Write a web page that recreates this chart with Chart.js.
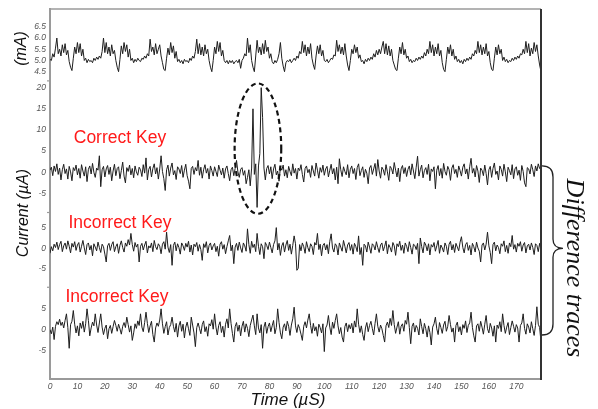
<!DOCTYPE html>
<html><head><meta charset="utf-8">
<script src="https://cdn.jsdelivr.net/npm/chart.js@4"></script>
<style>html,body{margin:0;padding:0;background:#fff;}#wrap{width:598px;height:409px;}</style>
</head><body><div id="wrap"><canvas id="c" width="598" height="409"></canvas></div>
<script>
// ---- data ----
const TIME_STEP_US = 0.5;            // sample spacing of every trace, in µS
const timeTicks = [0,10,20,30,40,50,60,70,80,90,100,110,120,130,140,150,160,170];
const supplyTicks = [4.5,5.0,5.5,6.0,6.5];
const correctTicks = [-5,0,5,10,15,20];
const incorrectTicks = [-5,0,5];
const traceLabels = ['Correct Key','Incorrect Key','Incorrect Key'];

// supply current (mA)
const supplyCurrent = [
5.05,5.0,5.3,5.15,5.55,6.0,5.3,5.5,5.2,5.7,5.35,5.75,5.25,5.45,4.95,4.7,4.55,5.1,5.6,5.3,
5.8,5.35,5.75,5.2,5.5,5.0,5.1,4.9,5.05,4.95,5.0,4.9,5.1,5.0,5.15,5.05,5.2,5.1,5.4,6.0,
5.35,5.8,5.3,5.6,5.2,5.7,5.3,5.45,5.0,4.7,4.5,5.05,5.65,5.3,5.8,5.4,5.7,5.15,5.5,5.0,
5.1,4.9,5.05,4.95,5.1,5.0,4.95,5.1,5.05,5.2,5.1,5.3,5.2,5.95,5.4,5.6,5.25,5.75,5.3,5.5,
5.7,5.2,4.9,4.6,4.55,5.1,5.55,5.25,5.8,5.35,5.65,5.1,5.4,4.95,5.05,4.9,5.0,4.85,5.05,4.95,
5.0,4.9,5.1,5.0,5.2,5.1,5.4,5.95,5.3,5.75,5.25,5.6,5.2,5.7,5.3,5.5,5.0,4.7,4.5,5.0,
5.6,5.3,5.85,5.4,5.8,5.2,5.45,5.0,4.9,5.0,4.85,5.0,4.9,5.0,4.85,4.95,5.0,4.9,5.05,4.65,
5.0,5.1,5.3,5.2,6.0,5.35,5.7,5.0,4.7,4.5,5.2,5.9,5.35,5.6,5.25,5.75,5.3,5.9,5.4,5.6,
5.1,5.3,4.95,4.85,5.0,4.9,5.05,5.3,5.8,5.1,4.75,4.5,4.9,5.0,4.95,5.05,4.9,5.0,5.1,5.0,
5.2,5.1,5.4,5.3,5.85,5.35,5.7,5.2,5.6,5.3,5.75,5.1,4.8,4.6,5.2,5.65,5.3,5.7,5.2,5.45,
5.0,4.95,5.05,4.9,5.0,5.1,5.05,5.25,5.2,5.9,5.4,5.7,5.3,5.6,5.25,5.75,5.2,4.8,4.55,5.0,
5.5,5.3,5.7,5.35,5.6,5.1,5.25,4.95,5.0,4.85,5.05,4.95,5.1,5.0,5.15,5.05,5.3,5.15,5.45,5.25,
5.5,5.3,5.6,5.85,5.3,5.75,5.25,5.65,5.2,5.5,5.0,4.8,4.6,4.55,5.1,5.6,5.3,5.8,5.25,5.5,
5.1,5.2,4.95,5.05,4.9,5.0,4.95,5.1,5.0,5.15,5.05,5.2,5.1,5.35,5.2,5.5,5.3,5.85,5.35,5.7,
5.2,5.6,5.3,5.75,5.2,5.45,4.9,4.6,4.5,5.05,5.6,5.3,5.7,5.2,5.5,5.05,5.2,4.95,5.05,4.9,
5.0,4.85,5.05,4.95,5.1,5.0,5.15,5.05,5.3,5.2,5.45,5.3,5.85,5.35,5.7,5.25,5.6,5.3,5.75,5.2,
5.4,4.9,4.6,4.55,5.1,5.6,5.25,5.7,5.3,5.5,5.0,5.15,4.95,5.05,4.9,5.0,4.95,5.1,5.0,5.15,
5.05,5.2,5.1,5.3,5.25,5.5,5.3,5.85,5.35,5.75,5.2,5.55,5.3,5.8,5.4,5.7,5.2,4.8,4.5
];

// difference trace, correct key (µA)
const correctKeyDiff = [
0.5,1.2,-0.8,1.5,0.2,2.0,-0.5,1.0,-1.8,0.6,1.9,-0.3,0.8,-1.6,1.4,0.1,-2.0,1.1,0.4,1.7,
-0.6,0.9,-1.4,1.8,0.3,-0.9,1.3,-2.2,0.7,1.5,-0.4,2.1,0.0,-1.2,1.0,0.5,3.9,-3.4,0.6,1.4,
-1.1,0.8,1.6,-0.5,1.2,-2.0,0.3,1.9,-0.8,0.9,1.3,-1.5,0.4,2.4,-0.9,-2.5,1.1,0.2,1.7,-0.6,
0.9,-1.3,1.5,0.1,-0.7,1.2,0.6,-1.0,1.8,-0.2,3.4,-1.8,0.7,1.4,-1.1,0.9,2.0,-0.4,1.1,-1.6,
0.8,3.9,0.2,-1.5,-4.3,0.6,1.7,-0.9,1.0,2.2,-0.6,0.4,-1.7,1.3,0.8,-0.3,1.6,-1.2,0.5,1.9,
-0.8,-2.1,-3.9,0.9,1.4,-0.5,1.1,0.3,2.8,-0.7,1.2,-1.4,0.6,1.8,-0.2,0.9,-1.6,1.5,0.4,-0.9,
1.3,0.2,-1.0,1.7,0.5,-0.6,1.0,-1.4,0.8,1.5,-0.3,-2.0,0.6,1.2,-0.8,0.9,2.8,0.1,-1.2,0.7,
1.1,-0.7,0.4,-2.7,-1.2,0.6,-3.2,1.0,15,-0.5,2.0,-8.3,1.5,4.4,20,13,1.0,-1.8,0.9,1.6,
-0.4,1.3,-1.5,0.8,1.9,-0.6,0.3,-2.1,1.2,0.5,1.7,-0.9,0.6,-1.3,1.4,0.2,-0.8,2.0,-0.2,0.9,
-1.6,1.0,0.4,1.8,-0.5,-2.3,0.9,1.5,-0.1,0.7,-1.2,1.6,0.3,-0.9,2.2,0.5,-1.4,1.1,0.0,1.7,
-0.7,0.8,1.4,-1.1,0.5,1.9,-0.4,0.9,-1.8,1.2,-2.7,3.2,0.6,-1.0,1.3,0.2,-0.6,1.8,-1.3,0.7,
1.5,-0.3,0.9,-1.7,1.1,2.0,-0.8,0.4,1.3,-1.2,0.7,-0.2,-2.7,1.0,1.6,-0.5,0.8,2.1,-0.9,3.0,
0.3,-1.4,1.2,0.6,-0.7,1.8,0.1,-1.9,1.4,0.9,-0.4,2.3,0.5,-1.1,1.0,-2.2,0.8,1.6,-0.3,1.1,
-1.0,0.7,1.5,-0.6,2.0,0.3,-1.5,1.2,3.8,-0.9,0.6,1.7,-1.3,0.4,1.1,-0.5,1.9,-2.0,0.8,0.2,
1.3,-3.9,0.5,1.6,-0.8,0.9,-1.4,2.1,0.2,-0.7,1.4,0.6,-1.9,1.0,1.8,-0.3,0.7,-1.2,1.5,0.4,
-0.9,1.2,2.0,-0.4,0.8,-1.6,1.3,3.3,-0.2,0.9,-1.1,1.6,0.3,-2.4,1.0,0.5,-0.8,1.7,-0.3,-3.0,
0.6,1.4,-1.2,0.9,2.2,-0.5,0.3,-1.8,1.5,0.7,-0.9,1.9,0.1,-2.2,1.2,0.4,-0.6,1.8,-1.5,0.8,
1.3,-0.7,0.5,-1.9,1.6,0.2,-2.5,-3.4,1.1,0.8,-0.4,1.9,0.6,-1.0,1.5,0.3,2.0,0.9,1.4
];

// difference trace, first incorrect key (µA)
const incorrectKeyDiffA = [
-1.2,0.4,-0.6,1.0,0.2,1.5,-0.3,0.9,1.7,-0.8,0.6,1.3,-0.2,1.8,0.5,-1.1,1.2,0.3,1.6,-0.5,
0.8,1.4,-0.9,0.5,1.9,0.1,-1.5,0.9,1.3,-0.4,0.7,-1.8,1.1,0.3,-0.6,1.5,0.2,-1.0,1.0,0.4,
-1.4,-3.3,0.6,1.2,-0.5,0.9,1.6,-0.8,0.4,1.1,-1.2,0.7,1.8,0.2,-0.9,1.3,0.5,2.1,0.8,3.6,
0.9,-0.7,1.4,0.3,1.0,-3.3,0.5,1.2,-0.4,0.8,1.7,-1.1,0.6,0.1,1.3,-0.8,1.9,0.4,-0.3,1.1,
0.5,-1.3,1.0,1.6,-0.2,3.9,0.3,-1.0,0.9,-4.1,0.7,1.5,-0.6,1.1,0.2,-1.4,1.3,0.6,-0.5,1.2,
0.3,1.7,-0.9,0.8,-1.6,1.0,0.4,1.4,-0.7,0.9,-0.3,-2.9,1.1,0.2,1.6,-1.1,0.7,1.3,-0.4,0.6,
1.2,-0.8,0.5,-1.9,1.0,1.6,-0.2,0.9,-1.3,0.4,1.8,3.1,-0.6,0.8,-3.7,0.3,1.2,-0.5,1.5,0.1,
-1.0,1.3,0.6,-0.7,4.7,0.9,-1.2,1.7,0.2,1.0,-0.8,3.6,0.5,-1.5,1.1,0.4,-2.5,1.4,0.7,-0.3,
1.5,0.2,-1.1,0.9,1.8,5.0,-0.4,1.2,-1.7,0.6,1.4,-0.9,0.8,1.9,-0.5,1.0,-1.4,0.7,3.0,1.1,
-5.3,-4.8,0.9,-0.6,1.3,0.4,-1.2,1.6,0.2,-0.8,1.1,0.5,-1.5,1.4,0.8,3.6,-0.3,1.0,-1.8,0.7,
1.2,-0.4,0.9,-1.3,1.7,3.5,0.1,-0.9,1.1,0.6,-1.6,1.3,0.3,-0.7,1.9,0.5,-1.1,0.8,1.4,-0.5,
0.9,-1.4,1.2,0.4,-0.8,3.0,-1.5,0.2,-4.1,1.0,0.6,-0.9,1.5,0.3,-1.2,1.1,0.7,-0.4,1.6,0.2,
-1.0,0.8,1.3,-0.6,0.5,1.8,-1.3,0.9,0.2,-0.9,1.4,0.6,-1.7,1.1,0.4,1.7,-0.5,0.8,-1.2,1.3,
0.5,-0.8,1.6,0.2,-1.4,1.0,0.7,-0.3,1.2,-3.7,2.5,0.4,-1.1,1.5,0.8,-0.6,1.1,-1.6,0.9,0.3,
1.4,-0.7,0.6,1.9,-1.2,0.8,0.1,-0.9,1.3,0.5,-1.5,1.0,1.7,-0.4,0.9,-1.0,1.2,0.3,-0.6,1.5,
2.8,0.2,-1.1,0.9,1.4,-0.5,0.7,-1.6,1.2,0.4,-0.9,1.5,0.1,-0.7,-3.3,0.8,1.3,-0.4,1.0,3.9,
0.6,-1.0,-3.7,0.9,1.5,-0.6,0.8,0.2,-1.3,1.1,0.5,1.8,-0.8,0.7,-1.2,1.3,0.4,3.1,-0.2,0.9,
-0.9,1.2,0.5,1.6,-0.7,0.8,1.4,-1.1,0.6,1.0,-0.4,1.3,0.2,-1.5,1.1,0.7,-0.8,1.2,-0.3
];

// difference trace, second incorrect key (µA)
const incorrectKeyDiffB = [
0.0,-1.0,0.6,-2.4,0.8,1.9,1.2,2.5,1.0,1.8,0.4,2.2,3.8,0.5,-4.5,1.2,2.0,4.6,1.3,-0.8,
0.9,-1.5,1.6,0.3,2.0,-0.6,1.4,5.0,2.2,-1.5,0.4,1.8,0.9,3.8,1.1,-0.7,1.6,3.8,0.6,-1.2,
0.3,1.1,-2.2,0.2,1.0,-0.9,0.7,2.2,1.0,-0.4,1.3,0.2,-1.1,0.8,1.7,0.5,3.0,1.2,-0.6,0.9,
-2.6,-0.8,1.4,0.3,2.1,1.0,3.8,0.6,-0.5,1.7,4.2,1.5,-0.7,0.9,2.0,-1.2,-3.0,0.4,1.6,0.8,
2.3,5.0,1.4,-0.9,0.7,1.9,-1.3,0.5,1.2,3.0,0.8,-0.6,1.5,-1.8,0.9,2.0,-0.4,1.3,-2.0,0.6,
1.8,0.2,-1.4,3.0,1.1,-0.8,-4.1,0.5,1.6,0.3,-1.0,1.2,2.1,-0.5,0.7,-1.6,1.4,0.9,2.4,0.1,
3.8,0.6,-1.3,1.0,1.9,-0.7,0.8,-1.8,1.3,2.6,0.4,5.0,1.5,-0.9,-3.0,0.7,1.7,-0.4,1.1,-1.5,
0.8,2.0,-0.6,1.4,0.3,-1.7,1.0,2.3,3.5,0.9,-1.2,3.8,0.4,-0.8,1.2,-4.5,0.6,1.8,-0.9,0.7,
1.6,-0.5,0.9,2.2,-1.0,0.5,5.0,1.7,-0.8,-2.2,0.6,1.4,-0.3,2.0,0.8,-1.4,1.1,2.6,5.4,0.9,
-0.7,1.2,0.3,-1.1,-2.6,0.8,1.9,0.4,2.3,3.8,1.0,-0.9,1.5,-0.3,0.7,-1.6,1.3,0.5,-0.8,1.4,
-5.3,0.4,1.1,3.4,0.6,-1.2,1.8,0.3,2.2,3.8,0.9,-1.0,0.5,-1.8,-3.0,0.7,1.6,-0.5,1.2,0.2,
1.5,-0.8,2.1,0.6,5.0,1.3,-0.7,0.9,-1.2,-2.6,0.4,1.7,-0.5,1.0,2.0,0.3,-1.3,1.5,3.8,0.8,
-0.6,1.1,0.2,-1.4,-3.0,0.9,1.8,0.5,2.7,1.0,4.6,1.2,-0.9,0.6,1.9,-1.1,0.8,1.4,-0.4,2.2,
1.3,4.2,0.5,-3.4,0.8,1.6,-0.6,1.0,0.3,-1.3,2.6,0.7,-1.0,1.5,0.2,-1.8,0.9,-0.7,-3.7,0.6,
1.4,3.0,0.2,-1.2,1.7,0.5,-0.9,1.1,2.0,-0.4,0.8,3.4,1.2,-0.6,0.4,-3.0,1.0,1.8,-0.5,0.7,
-1.3,1.2,0.3,2.1,-0.7,1.0,1.6,4.2,0.5,-1.5,-3.0,0.9,1.4,-0.4,2.0,0.6,-1.1,1.3,3.4,0.2,
-0.8,1.5,0.4,-1.6,0.9,-3.0,1.1,0.3,1.9,-0.5,3.8,1.0,-0.9,0.6,1.7,-1.2,0.5,2.1,0.8,-0.6,
1.2,0.4,-3.0,1.0,1.6,3.8,0.3,-1.1,1.4,0.6,-0.8,1.9,0.2,-1.4,1.0,5.5,1.3,0.5,-3.0
];

// ---- chart ----
const axisGray = '#9a9a9a';
const SANS = "'Liberation Sans', Arial, sans-serif";
const tickFont = {family: SANS, size: 8.5, style: 'italic'};

function toPoints(values) { return values.map((v, i) => ({x: i * TIME_STEP_US, y: v})); }
function fixedTicks(values) { return function (axis) { axis.ticks = values.map(v => ({value: v})); }; }
function yAxis(ticks, min, max, weight, stackWeight, decimals) {
  return {
    type: 'linear', position: 'left', stack: 'traces', stackWeight: stackWeight, weight: weight,
    min: min, max: max,
    grid: {display: false, drawTicks: false},
    border: {display: true, color: axisGray, width: 2},
    ticks: {font: tickFont, color: '#555', padding: 4, autoSkip: false,
      callback: v => decimals ? Number(v).toFixed(decimals) : String(v)},
    afterBuildTicks: fixedTicks(ticks),
    afterFit: s => { s.width = 50; }
  };
}
function trace(values, axisId) {
  return {data: toPoints(values), yAxisID: axisId, borderColor: '#1e1e1e', borderWidth: 1,
    pointRadius: 0, tension: 0, fill: false};
}

const annotate = {
  id: 'annotate',
  afterDraw(chart) {
    const {ctx, chartArea: a, scales} = chart;
    const sx = scales.x, yC = scales.yC, yA = scales.yA, yB = scales.yB;
    ctx.save();
    // frame: top and right
    ctx.strokeStyle = axisGray; ctx.lineWidth = 1.5;
    ctx.beginPath(); ctx.moveTo(a.left, a.top); ctx.lineTo(a.right, a.top); ctx.stroke();
    ctx.strokeStyle = '#333'; ctx.lineWidth = 2;
    ctx.beginPath(); ctx.moveTo(a.right, a.top); ctx.lineTo(a.right, a.bottom + 1); ctx.stroke();
    // small break marks where the stacked panels meet
    ctx.strokeStyle = axisGray; ctx.lineWidth = 1.2;
    [yC.top, yA.top, yB.top].forEach(py => {
      ctx.beginPath(); ctx.moveTo(a.left - 3, py); ctx.lineTo(a.left, py); ctx.stroke();
    });

    // axis titles
    ctx.fillStyle = '#111'; ctx.textAlign = 'center'; ctx.textBaseline = 'middle';
    ctx.font = 'italic 16px ' + SANS;
    ctx.save(); ctx.translate(21.5, 48.5); ctx.rotate(-Math.PI / 2); ctx.fillText('(mA)', 0, 0); ctx.restore();
    ctx.save(); ctx.translate(24, 213); ctx.rotate(-Math.PI / 2); ctx.fillText('Current (\u00B5A)', 0, 0); ctx.restore();
    ctx.font = 'italic 17px ' + SANS;
    ctx.fillText('Time (\u00B5S)', 288, 400);

    // trace labels
    ctx.fillStyle = '#ff1a1a'; ctx.font = '17.5px ' + SANS;
    ctx.fillText(traceLabels[0], sx.getPixelForValue(25.5), yC.getPixelForValue(8.1));
    ctx.fillText(traceLabels[1], sx.getPixelForValue(25.5), yA.getPixelForValue(6.1));
    ctx.fillText(traceLabels[2], sx.getPixelForValue(24.4), yB.getPixelForValue(7.7));

    // dashed ellipse around the leak
    const cx = sx.getPixelForValue(75.8), cy = yC.getPixelForValue(5.6);
    const rx = sx.getPixelForValue(84.3) - cx, ry = cy - yC.getPixelForValue(21.0);
    ctx.strokeStyle = '#111'; ctx.lineWidth = 2.2; ctx.setLineDash([5, 3.5]);
    ctx.beginPath(); ctx.ellipse(cx, cy, rx, ry, 0, 0, Math.PI * 2); ctx.stroke();
    ctx.setLineDash([]);

    // brace
    const top = yC.getPixelForValue(1.5), mid = yA.getPixelForValue(0), bot = yB.getPixelForValue(-1.3);
    const xL = a.right + 1, xM = xL + 11, xT = xL + 21;
    ctx.strokeStyle = '#222'; ctx.lineWidth = 1.3;
    ctx.beginPath();
    ctx.moveTo(xL, top);
    ctx.quadraticCurveTo(xM, top, xM, top + 11);
    ctx.lineTo(xM, mid - 9);
    ctx.quadraticCurveTo(xM, mid, xT, mid);
    ctx.quadraticCurveTo(xM, mid, xM, mid + 9);
    ctx.lineTo(xM, bot - 11);
    ctx.quadraticCurveTo(xM, bot, xL, bot);
    ctx.stroke();

    // side label
    ctx.fillStyle = '#111'; ctx.font = 'italic 26px "Liberation Serif", "Times New Roman", serif';
    ctx.save(); ctx.translate(574, 268); ctx.rotate(Math.PI / 2); ctx.fillText('Difference traces', 0, 0); ctx.restore();
    ctx.restore();
  }
};

new Chart(document.getElementById('c'), {
  type: 'line',
  data: {datasets: [
    trace(supplyCurrent, 'yP'),
    trace(correctKeyDiff, 'yC'),
    trace(incorrectKeyDiffA, 'yA'),
    trace(incorrectKeyDiffB, 'yB')
  ]},
  options: {
    responsive: false, animation: false, devicePixelRatio: 1,
    layout: {padding: {top: 8, right: 57, left: 0, bottom: 0}},
    plugins: {legend: {display: false}, tooltip: {enabled: false}},
    scales: {
      x: {type: 'linear', position: 'bottom', min: 0, max: 179,
        grid: {display: false, drawTicks: false},
        border: {display: true, color: axisGray, width: 2},
        ticks: {font: tickFont, color: '#555', padding: 3, maxRotation: 0, autoSkip: false},
        afterBuildTicks: fixedTicks(timeTicks),
        afterFit: s => { s.height = 30; }},
      yP: yAxis(supplyTicks, 4.09, 7.29, 4, 72, 1),
      yC: yAxis(correctTicks, -9.5, 21.6, 3, 132, 0),
      yA: yAxis(incorrectTicks, -9.4, 8.65, 2, 75, 0),
      yB: yAxis(incorrectTicks, -11.9, 10.2, 1, 92, 0)
    }
  },
  plugins: [annotate]
});
</script></body></html>
